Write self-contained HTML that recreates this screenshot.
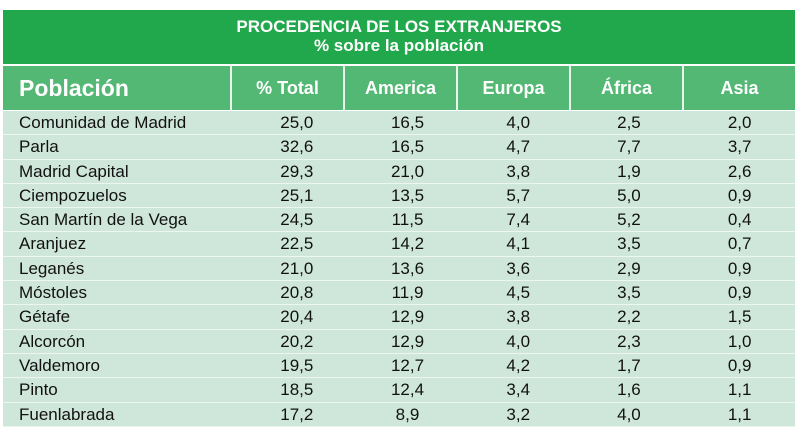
<!DOCTYPE html>
<html><head><meta charset="utf-8"><style>
body{margin:0;width:805px;height:442px;background:#fff;font-family:"Liberation Sans",sans-serif;overflow:hidden;position:relative}
#banner{position:absolute;left:3px;top:10px;width:792px;height:54px;background:#22a84c;color:#fff;text-align:center;font-weight:bold;font-size:17px;line-height:19px;padding-top:7px;box-sizing:border-box}
#hdr{position:absolute;left:3px;top:66px;width:792px;height:44px;background:#52b873;display:flex}
#hdr div{color:#fff;font-weight:bold;font-size:18px;line-height:44px;text-align:center;border-left:2px solid #e8f4ec;box-sizing:border-box}
#hdr div:first-child{border-left:none;text-align:left;padding-left:16px;font-size:23px}
#body{position:absolute;left:3px;top:111px;width:792px}
.row{display:flex;height:24.3px;background:#cfe7da;border-bottom:1.5px solid #eef6f1;box-sizing:border-box;font-size:17px;line-height:23px;color:#111}
.row div{text-align:center}
.row div:first-child{text-align:left;padding-left:16px}
</style></head><body>
<div id="banner">PROCEDENCIA DE LOS EXTRANJEROS<br>% sobre la población</div>
<div id="hdr">
<div style="width:227px">Población</div>
<div style="width:113px">% Total</div>
<div style="width:113px">America</div>
<div style="width:113px">Europa</div>
<div style="width:113px">África</div>
<div style="width:113px">Asia</div>
</div>
<div id="body"></div>
<script>
const names=["Comunidad de Madrid","Parla","Madrid Capital","Ciempozuelos","San Martín de la Vega","Aranjuez","Leganés","Móstoles","Gétafe","Alcorcón","Valdemoro","Pinto","Fuenlabrada"];
const total=["25,0","32,6","29,3","25,1","24,5","22,5","21,0","20,8","20,4","20,2","19,5","18,5","17,2"];
const america=["16,5","16,5","21,0","13,5","11,5","14,2","13,6","11,9","12,9","12,9","12,7","12,4","8,9"];
const europa=["4,0","4,7","3,8","5,7","7,4","4,1","3,6","4,5","3,8","4,0","4,2","3,4","3,2"];
const africa=["2,5","7,7","1,9","5,0","5,2","3,5","2,9","3,5","2,2","2,3","1,7","1,6","4,0"];
const asia=["2,0","3,7","2,6","0,9","0,4","0,7","0,9","0,9","1,5","1,0","0,9","1,1","1,1"];
const body=document.getElementById('body');
const widths=[227,113,113,113,113,113];
names.forEach((n,i)=>{
 const r=document.createElement('div');r.className='row';
 
 
 [n,total[i],america[i],europa[i],africa[i],asia[i]].forEach((v,j)=>{
  const c=document.createElement('div');c.style.width=widths[j]+'px';c.textContent=v;
  
  
  r.appendChild(c);
 });
 body.appendChild(r);
});
</script>
</body></html>
